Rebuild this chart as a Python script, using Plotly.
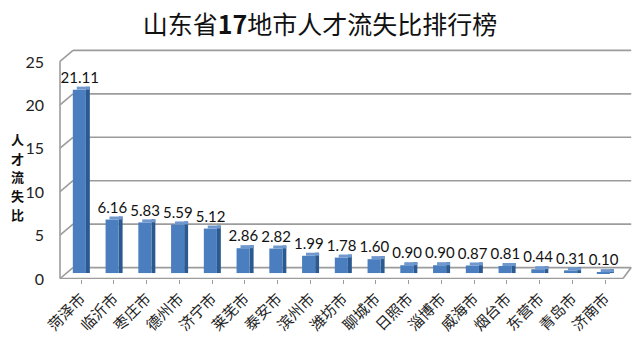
import plotly.graph_objects as go

cities = ["菏泽市", "临沂市", "枣庄市", "德州市", "济宁市", "莱芜市", "泰安市", "滨州市", "潍坊市",
          "聊城市", "日照市", "淄博市", "威海市", "烟台市", "东营市", "青岛市", "济南市"]
ratios = [21.11, 6.16, 5.83, 5.59, 5.12, 2.86, 2.82, 1.99, 1.78, 1.60, 0.90, 0.90, 0.87, 0.81, 0.44, 0.31, 0.10]
y_ticks = [0, 5, 10, 15, 20, 25]
labels = [f"{v:.2f}" for v in ratios]
y_title_chars = ["人", "才", "流", "失", "比"]

idx = list(range(len(cities)))
CAP = 0.35      # depth cap height (units)
DY = 0.63       # half depth, vertical (units)
XF, XB = -0.641, -0.244  # left wall front/back x
XR_F, XR_B = 16.55, 16.8  # right floor front/back x
GRID = "#9C9C9C"

fig = go.Figure()
# side faces
fig.add_trace(go.Bar(x=idx, y=[v + CAP for v in ratios], width=0.12, offset=0.15,
                     marker=dict(color="#2C5A90", line=dict(width=0)), hoverinfo="skip"))
# front faces
fig.add_trace(go.Bar(x=idx, y=ratios, width=0.4, offset=-0.25,
                     marker=dict(color="#4A7EBE", line=dict(width=0)), hoverinfo="skip"))
# top caps
fig.add_trace(go.Bar(x=idx, y=[CAP] * len(ratios), base=ratios, width=0.4, offset=-0.13,
                     marker=dict(color="#6F98CE", line=dict(width=0)), hoverinfo="skip"))
# value labels
fig.add_trace(go.Scatter(x=[i - 0.04 for i in idx], y=[v + CAP for v in ratios], mode="text",
                         text=labels, textposition="top center",
                         textfont=dict(family="Lato, Open Sans, sans-serif", size=15, color="#111"),
                         hoverinfo="skip", cliponaxis=False))

shapes = []
for t in y_ticks:
    shapes.append(dict(type="line", xref="x", yref="y", x0=XB, x1=XR_B, y0=t + DY, y1=t + DY,
                       line=dict(color=GRID, width=1.6), layer="below"))
    shapes.append(dict(type="line", xref="x", yref="y", x0=XF, x1=XB, y0=t - DY, y1=t + DY,
                       line=dict(color=GRID, width=1.6), layer="below"))
# floor front edge, right edge, left vertical edge
shapes.append(dict(type="line", xref="x", yref="y", x0=XF, x1=XR_F, y0=-DY, y1=-DY,
                   line=dict(color=GRID, width=1.6)))
shapes.append(dict(type="line", xref="x", yref="y", x0=XR_F, x1=XR_B, y0=-DY, y1=DY,
                   line=dict(color=GRID, width=1.6)))
shapes.append(dict(type="line", xref="x", yref="y", x0=XF, x1=XF, y0=-DY, y1=y_ticks[-1] - DY,
                   line=dict(color=GRID, width=1.6), layer="below"))

# vertical axis title, one character per line (top at ~140px, 19px apart)
annotations = []
for k, ch in enumerate(y_title_chars):
    annotations.append(dict(text=f"<b>{ch}</b>", xref="paper", yref="paper", x=-0.065,
                            y=(281 - (140 + 19 * k)) / 241, xanchor="center", yanchor="middle",
                            showarrow=False, font=dict(family="Noto Sans CJK SC", size=13, color="#111")))

fig.update_layout(
    width=640, height=339,
    margin=dict(l=55, r=5, t=40, b=58),
    paper_bgcolor="white", plot_bgcolor="white",
    barmode="overlay", showlegend=False,
    shapes=shapes,
    title=dict(text="山东省<b>17</b>地市人才流失比排行榜", x=0.5, xanchor="center", y=0.925, yanchor="middle",
               font=dict(family="Noto Sans CJK SC", size=25, color="#111")),
    annotations=annotations,
)
fig.update_xaxes(range=[-0.794, 16.916], tickvals=idx, ticktext=cities, tickangle=-45,
                 tickfont=dict(family="Noto Sans CJK SC", size=15, color="#222"),
                 ticks="outside", ticklen=4, tickcolor=GRID, showgrid=False, zeroline=False, showline=False)
fig.update_yaxes(range=[-0.685, 26.83], tickvals=y_ticks, ticktext=[str(t) for t in y_ticks],
                 tickfont=dict(family="Lato, Open Sans, sans-serif", size=16, color="#222"),
                 ticklabelshift=6, ticklabelstandoff=10,
                 showgrid=False, zeroline=False, showline=False)
fig.write_html("out.html")
